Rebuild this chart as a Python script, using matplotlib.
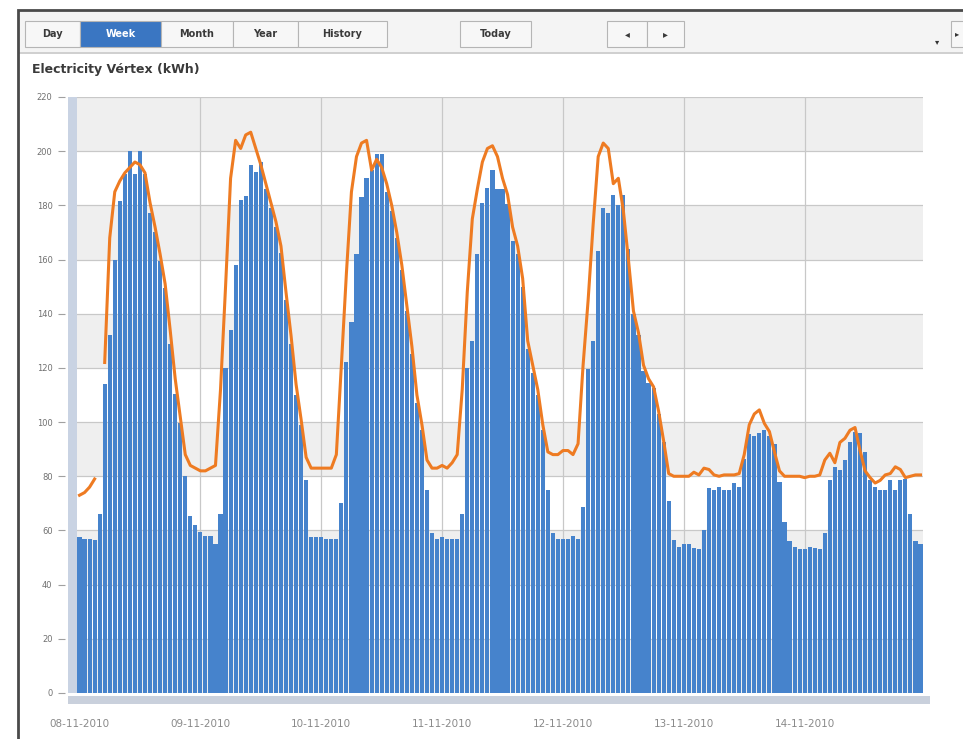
import numpy as np
import matplotlib.pyplot as plt
from matplotlib.patches import Rectangle
from matplotlib.transforms import blended_transform_factory

W, H = 963, 739
nan = np.nan

dias = ['08-11-2010', '09-11-2010', '10-11-2010', '11-11-2010',
        '12-11-2010', '13-11-2010', '14-11-2010']

# consumo por hora (kWh), 24 valores por dia
consumo_08 = [57.5, 57, 57, 56.5, 66, 114, 132, 160, 181.5, 191.5, 200, 191.5,
              200, 191.5, 177, 170, 159.5, 149.5, 129, 110.5, 99.5, 80, 65.5, 62]
consumo_09 = [59.5, 58, 58, 55, 66, 120, 134, 158, 182, 183.5, 195, 192.5,
              196, 186, 179, 172, 162.5, 145, 129, 110, 99, 78.5, 57.5, 57.5]
consumo_10 = [57.5, 57, 57, 57, 70, 122, 137, 162, 183, 190, 193, 199,
              199, 185, 178, 168, 156, 141, 125, 107, 97, 75, 59, 57]
consumo_11 = [57.5, 57, 57, 57, 66, 120, 130, 162, 181, 186.5, 193, 186,
              186, 180.5, 167, 162, 150, 127, 118, 110, 97, 75, 59, 57]
consumo_12 = [57, 57, 58, 57, 68.5, 119.5, 130, 163, 179, 177, 184, 180,
              184, 164, 140, 132, 119, 114.5, 112.5, 103, 92.5, 71, 56.5, 54]
consumo_13 = [55, 55, 53.5, 53, 60, 75.5, 75, 76, 75, 75, 77.5, 76,
              86.5, 95.5, 95, 96, 97, 95, 92, 78, 63, 56, 54, 53]
consumo_14 = [53, 54, 53.5, 53, 59, 78.5, 83.5, 82.5, 86, 92.5, 96.5, 96,
              89, 78.5, 76, 75, 75, 78.5, 75, 78.5, 79, 66, 56, 55]

# linha laranja (referencia)
referencia_08 = [73, 74, 76, 79, nan, 122, 168, 185, 189, 192, 194, 196,
                 195, 192, 181, 172, 162, 151, 134, 116, 102, 88, 84, 83]
referencia_09 = [82, 82, 83, 84, 112, 150, 190, 204, 201, 206, 207, 201,
                 195, 188, 181, 174, 165, 148, 132, 114, 101, 87, 83, 83]
referencia_10 = [83, 83, 83, 88, 121, 155, 185, 198, 203, 204, 193, 197,
                 194, 188, 180, 170, 158, 143, 128, 110, 99, 86, 83, 83]
referencia_11 = [84, 83, 85, 88, 112, 148, 175, 186, 196, 201, 202, 198,
                 190, 184, 172, 165, 153, 130, 121, 112, 99, 89, 88, 88]
referencia_12 = [89.5, 89.5, 88, 92, 121, 145, 173, 198, 203, 201, 188, 190,
                 178, 160, 141, 133, 121, 116, 113, 104, 93, 81, 80, 80]
referencia_13 = [80, 80, 81.5, 80.5, 83, 82.5, 80.5, 80, 80.5, 80.5, 80.5, 81,
                 88, 99, 103, 104.5, 99.5, 96.5, 89, 82, 80, 80, 80, 80]
referencia_14 = [79.5, 80, 80, 80.5, 86, 88.5, 85, 92.5, 94, 97, 98, 89.5,
                 82, 79.5, 77.5, 78.5, 80.5, 81, 83.5, 82.5, 79.5, 80, 80.5, 80.5]

consumo = (consumo_08 + consumo_09 + consumo_10 + consumo_11 +
           consumo_12 + consumo_13 + consumo_14)
referencia = (referencia_08 + referencia_09 + referencia_10 + referencia_11 +
              referencia_12 + referencia_13 + referencia_14)
horas = np.arange(len(consumo))

fig = plt.figure(figsize=(W / 100, H / 100), dpi=100)
fig.patch.set_facecolor('white')


def caixa(x0, y0, x1, y1, **kw):
    r = Rectangle((x0 / W, 1 - y1 / H), (x1 - x0) / W, (y1 - y0) / H,
                  transform=fig.transFigure, **kw)
    fig.patches.append(r)
    return r


def texto(x, y, s, **kw):
    fig.text(x / W, 1 - y / H, s, **kw)


# moldura e barra de ferramentas
caixa(19, 11, 963, 53, facecolor='#f4f4f4', edgecolor='none')
caixa(19, 52, 963, 54, facecolor='#d0d0d0', edgecolor='none')
caixa(18, 10, 975, 760, fill=False, edgecolor='#4a4a4a', lw=2)

botoes = [('Day', 25, 80), ('Week', 80, 161), ('Month', 161, 233),
          ('Year', 233, 298), ('History', 298, 387), ('Today', 460, 531),
          ('◂', 607, 647), ('▸', 647, 684)]
for nome, x0, x1 in botoes:
    sel = nome == 'Week'
    caixa(x0, 21, x1, 47, facecolor='#3a76c2' if sel else '#f7f7f7',
          edgecolor='#b5b5b5', lw=0.8)
    texto((x0 + x1) / 2, 34, nome, ha='center', va='center', fontsize=7,
          fontweight='bold', color='white' if sel else '#3a3a3a')
caixa(951, 21, 970, 47, facecolor='#f7f7f7', edgecolor='#b5b5b5', lw=0.8)
texto(957, 34, '▸', ha='center', va='center', fontsize=6, color='#333')
texto(937, 42, '▾', ha='center', va='center', fontsize=6, color='#333')

texto(32, 70, 'Electricity Vértex (kWh)', fontsize=9, fontweight='bold',
      color='#3a3a3a', va='center')

# faixas laterais (navegacao)
caixa(68, 97, 77, 693, facecolor='#c9d3e3', edgecolor='none')
caixa(68, 696, 930, 704, facecolor='#c9d0dc', edgecolor='none')

ax = fig.add_axes([77 / W, 1 - 693 / H, 846 / W, 596 / H])
ax.set_xlim(-0.5, len(consumo) - 0.5)
ax.set_ylim(0, 220)

for y0 in range(0, 220, 40):
    ax.axhspan(y0, y0 + 20, color='#efefef', zorder=0, lw=0)
ax.set_yticks(range(0, 221, 20))
ax.grid(axis='y', color='#c8c8c8', lw=0.9, zorder=1)
for d in range(24, len(consumo), 24):
    ax.axvline(d, color='#c8c8c8', lw=0.9, zorder=1)

ax.bar(horas, consumo, width=0.82, color='#4683cc', zorder=3)
ax.plot(horas, referencia, color='#ee7b22', lw=2.2, zorder=4)

trans = blended_transform_factory(ax.transData, ax.transAxes)
for d in [-0.5] + list(range(24, len(consumo), 24)):
    ax.plot([d, d], [-12 / 596, -2 / 596], transform=trans, color='white',
            lw=1.5, clip_on=False, zorder=5)

for s in ax.spines.values():
    s.set_visible(False)
ax.spines['left'].set_position(('outward', 8.6))

ax.set_xticks(range(0, len(consumo), 24))
ax.set_xticklabels(dias)
ax.tick_params(axis='x', length=0, pad=19, labelsize=7.5, labelcolor='#8a8a8a')
ax.tick_params(axis='y', length=5, width=0.8, color='#a0a0a0', pad=4,
               labelsize=6, labelcolor='#707070')

fig.savefig('out.png', dpi=100)
